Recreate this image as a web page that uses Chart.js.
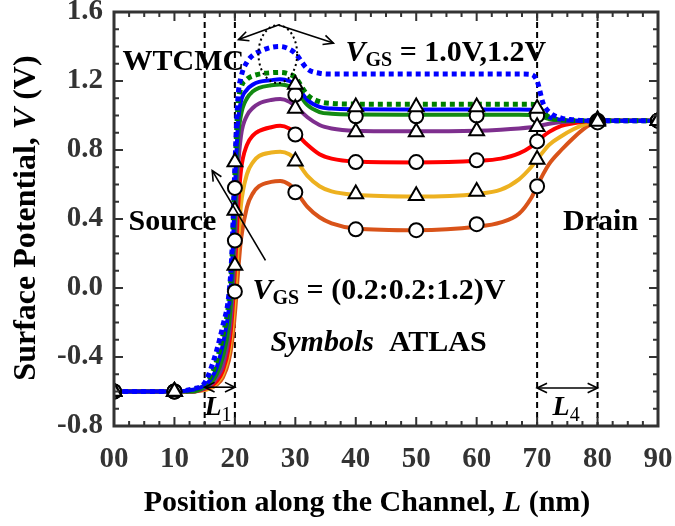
<!DOCTYPE html>
<html lang="en">
<head>
<meta charset="utf-8">
<title>Surface potential along the channel</title>
<script src="https://cdn.jsdelivr.net/npm/chart.js"></script>
<style>
	html, body { margin: 0; padding: 0; background: #fff; }
	#wrap { width: 675px; height: 526px; }
</style>
</head>
<body>
<div id="wrap"><canvas id="chart" width="675" height="526"></canvas></div>
<script>
// positions along the channel (nm) used for the model curves
const positions = [0, 5, 10, 13, 15, 16, 17, 18, 19, 19.5, 20, 20.5, 21, 22, 23, 24, 26, 27.5, 29, 30, 32, 34, 36, 40, 50, 60, 64, 67, 69, 70, 71, 72, 74, 76, 78, 80, 85, 90]

// WTCMC model, solid lines, VGS = 0.2 ... 1.2 V
const model02 = [-0.6, -0.6, -0.6, -0.6, -0.59, -0.58, -0.56, -0.52, -0.42, -0.32, -0.15, 0.08, 0.28, 0.47, 0.55, 0.59, 0.615, 0.62, 0.6, 0.565, 0.47, 0.41, 0.375, 0.345, 0.335, 0.355, 0.38, 0.43, 0.52, 0.59, 0.66, 0.72, 0.8, 0.87, 0.93, 0.965, 0.97, 0.97]
const model04 = [-0.6, -0.6, -0.6, -0.6, -0.59, -0.58, -0.55, -0.5, -0.38, -0.25, -0.05, 0.25, 0.48, 0.66, 0.73, 0.765, 0.785, 0.79, 0.775, 0.745, 0.65, 0.59, 0.56, 0.54, 0.53, 0.545, 0.57, 0.63, 0.7, 0.745, 0.79, 0.83, 0.88, 0.92, 0.95, 0.968, 0.97, 0.97]
const model06 = [-0.6, -0.6, -0.6, -0.6, -0.585, -0.57, -0.54, -0.48, -0.34, -0.18, 0.1, 0.45, 0.68, 0.83, 0.885, 0.91, 0.932, 0.94, 0.925, 0.9, 0.83, 0.775, 0.75, 0.733, 0.728, 0.737, 0.75, 0.78, 0.82, 0.85, 0.88, 0.905, 0.94, 0.955, 0.965, 0.97, 0.97, 0.97]
const model08 = [-0.6, -0.6, -0.6, -0.6, -0.58, -0.56, -0.52, -0.45, -0.28, -0.1, 0.25, 0.68, 0.88, 1.0, 1.045, 1.07, 1.09, 1.095, 1.08, 1.055, 0.99, 0.945, 0.925, 0.912, 0.908, 0.912, 0.918, 0.925, 0.932, 0.937, 0.945, 0.952, 0.962, 0.967, 0.97, 0.97, 0.97, 0.97]
const model10 = [-0.6, -0.6, -0.6, -0.6, -0.575, -0.55, -0.5, -0.4, -0.22, 0.0, 0.4, 0.85, 1.0, 1.1, 1.14, 1.16, 1.175, 1.18, 1.17, 1.15, 1.06, 1.02, 1.01, 1.006, 1.005, 1.005, 1.005, 1.005, 1.003, 1.0, 0.99, 0.98, 0.972, 0.97, 0.97, 0.97, 0.97, 0.97]
const model12 = [-0.6, -0.6, -0.6, -0.59, -0.565, -0.53, -0.46, -0.33, -0.12, 0.1, 0.55, 0.95, 1.08, 1.15, 1.18, 1.195, 1.205, 1.21, 1.2, 1.18, 1.09, 1.05, 1.04, 1.036, 1.035, 1.035, 1.035, 1.035, 1.034, 1.03, 1.01, 0.99, 0.975, 0.97, 0.97, 0.97, 0.97, 0.97]
// dotted lines, VGS = 1.0 V and 1.2 V
const dotted10 = [-0.6, -0.6, -0.6, -0.59, -0.56, -0.51, -0.42, -0.28, -0.08, 0.15, 0.65, 1.05, 1.16, 1.21, 1.23, 1.24, 1.248, 1.25, 1.24, 1.22, 1.12, 1.08, 1.07, 1.066, 1.065, 1.065, 1.065, 1.065, 1.065, 1.06, 1.02, 0.99, 0.975, 0.97, 0.97, 0.97, 0.97, 0.97]
const dotted12 = [-0.6, -0.6, -0.6, -0.585, -0.55, -0.47, -0.36, -0.22, -0.04, 0.2, 0.7, 1.1, 1.22, 1.31, 1.35, 1.37, 1.395, 1.4, 1.385, 1.36, 1.27, 1.245, 1.24, 1.24, 1.24, 1.24, 1.24, 1.24, 1.238, 1.2, 1.07, 1.02, 0.985, 0.975, 0.97, 0.97, 0.97, 0.97]

// ATLAS symbols
const atlasX = [0, 10, 20, 30, 40, 50, 60, 70, 80, 90]
const atlas02 = [-0.6, -0.6, -0.02, 0.555, 0.34, 0.335, 0.37, 0.59, 0.96, 0.97]
const atlas04 = [-0.6, -0.6, 0.13, 0.735, 0.545, 0.535, 0.56, 0.745, 0.965, 0.97]
const atlas06 = [-0.6, -0.6, 0.275, 0.89, 0.73, 0.73, 0.74, 0.85, 0.965, 0.97]
const atlas08 = [-0.6, -0.6, 0.45, 1.04, 0.905, 0.905, 0.91, 0.935, 0.97, 0.97]
const atlas10 = [-0.6, -0.6, 0.58, 1.12, 0.995, 0.995, 1.0, 1.0, 0.97, 0.97]
const atlas12 = [-0.6, -0.6, 0.73, 1.18, 1.05, 1.05, 1.05, 1.04, 0.975, 0.97]

const regionBounds = [15, 20, 70, 80]

const serif = '"Liberation Serif", "Times New Roman", serif'

function points(xs, ys) {
	return xs.map((x, i) => ({x: x, y: ys[i]}))
}

const datasets = []
const solid = [[model02, "#D95319"], [model04, "#EDB120"], [model06, "#FF0000"], [model08, "#7E2F8E"], [model10, "#138A13"], [model12, "#0000FF"]]
solid.forEach(([ys, color], i) => {
	datasets.push({
		type: "line", data: points(positions, ys), borderColor: color, backgroundColor: color,
		borderWidth: 4, pointRadius: 0, cubicInterpolationMode: "monotone", fill: false, order: 10 - i
	})
})
;[[dotted10, "#008000"], [dotted12, "#0000FF"]].forEach(([ys, color], i) => {
	datasets.push({
		type: "line", data: points(positions, ys), borderColor: color, backgroundColor: color,
		borderWidth: 5, borderDash: [5, 4], pointRadius: 0, cubicInterpolationMode: "monotone", fill: false, order: 3 - i
	})
})
;[[atlas02, "circle"], [atlas04, "triangle"], [atlas06, "circle"], [atlas08, "triangle"], [atlas10, "circle"], [atlas12, "triangle"]].forEach(([ys, shape]) => {
	datasets.push({
		type: "line", data: points(atlasX, ys), showLine: false, pointStyle: shape,
		pointRadius: shape == "circle" ? 7 : 8.5, pointBackgroundColor: "#fff", pointBorderColor: "#000",
		pointBorderWidth: 2, order: shape == "circle" ? 0 : -1
	})
})

function drawParts(ctx, x, y, parts) {
	ctx.textAlign = "left"
	ctx.textBaseline = "middle"
	parts.forEach(p => {
		ctx.font = p.font
		ctx.fillText(p.t, x, y + (p.dy || 0))
		x += ctx.measureText(p.t).width
	})
}
function partsWidth(ctx, parts) {
	let w = 0
	parts.forEach(p => { ctx.font = p.font; w += ctx.measureText(p.t).width })
	return w
}
function arrowHead(ctx, x1, y1, x2, y2, size) {
	const a = Math.atan2(y2 - y1, x2 - x1)
	ctx.beginPath()
	ctx.moveTo(x2 - size * Math.cos(a - 0.45), y2 - size * Math.sin(a - 0.45))
	ctx.lineTo(x2, y2)
	ctx.lineTo(x2 - size * Math.cos(a + 0.45), y2 - size * Math.sin(a + 0.45))
	ctx.stroke()
}
function arrow(ctx, x1, y1, x2, y2, both) {
	ctx.beginPath()
	ctx.moveTo(x1, y1)
	ctx.lineTo(x2, y2)
	ctx.stroke()
	arrowHead(ctx, x1, y1, x2, y2, 11)
	if (both) arrowHead(ctx, x2, y2, x1, y1, 11)
}

const B = "bold 30px " + serif
const BI = "italic bold 30px " + serif
const SUB = "bold 20px " + serif

const decorations = {
	id: "decorations",
	beforeDatasetsDraw(chart) {
		const ctx = chart.ctx
		const xs = chart.scales.x, ys = chart.scales.y
		const px = v => xs.getPixelForValue(v), py = v => ys.getPixelForValue(v)
		ctx.save()
		ctx.fillStyle = "#000"
		drawParts(ctx, px(1.4), py(1.31), [{t: "WTCMC", font: B}])
		drawParts(ctx, px(38.3), py(1.36), [{t: "V", font: BI}, {t: "GS", font: SUB, dy: 7}, {t: " = 1.0V,1.2V", font: B}])
		drawParts(ctx, px(2.4), py(0.38), [{t: "Source", font: B}])
		drawParts(ctx, px(74.3), py(0.38), [{t: "Drain", font: B}])
		drawParts(ctx, px(22.9), py(-0.02), [{t: "V", font: BI}, {t: "GS", font: SUB, dy: 7}, {t: " = (0.2:0.2:1.2)V", font: B}])
		drawParts(ctx, px(25.9), py(-0.32), [{t: "Symbols", font: BI}, {t: "  ATLAS", font: B}])

		// region boundaries
		ctx.strokeStyle = "#000"
		ctx.lineWidth = 2
		ctx.setLineDash([6, 4])
		regionBounds.forEach(b => {
			ctx.beginPath()
			ctx.moveTo(px(b), chart.chartArea.top)
			ctx.lineTo(px(b), chart.chartArea.bottom)
			ctx.stroke()
		})
		ctx.restore()
	},
	afterDatasetsDraw(chart) {
		const ctx = chart.ctx
		const xs = chart.scales.x, ys = chart.scales.y
		const px = v => xs.getPixelForValue(v), py = v => ys.getPixelForValue(v)
		const area = chart.chartArea
		ctx.save()
		ctx.strokeStyle = "#000"
		ctx.fillStyle = "#000"

		// peak marker and arrows
		ctx.setLineDash([2, 3])
		ctx.lineWidth = 2
		ctx.beginPath()
		ctx.ellipse(px(27.1), py(1.356), px(27.1) - px(23.9), py(1.356) - py(1.524), 0, 0, Math.PI * 2)
		ctx.stroke()
		ctx.setLineDash([])
		ctx.lineWidth = 1.6
		arrow(ctx, px(27.2), py(1.525), px(20.6), py(1.44))
		arrow(ctx, px(27.2), py(1.525), px(36.3), py(1.42))
		arrow(ctx, px(25.06), py(0.16), px(16.25), py(0.68))

		// L1 and L4
		arrow(ctx, px(15), py(-0.575), px(20), py(-0.575), true)
		arrow(ctx, px(70), py(-0.58), px(80), py(-0.58), true)
		const l1 = [{t: "L", font: "italic bold 28px " + serif}, {t: "1", font: "20px " + serif, dy: 8}]
		drawParts(ctx, px(17.2) - partsWidth(ctx, l1) / 2, py(-0.695), l1)
		const l4 = [{t: "L", font: "italic bold 28px " + serif}, {t: "4", font: "20px " + serif, dy: 8}]
		drawParts(ctx, px(74.8) - partsWidth(ctx, l4) / 2, py(-0.695), l4)

		// frame and inward ticks
		ctx.strokeStyle = "#333"
		ctx.lineWidth = 3
		ctx.strokeRect(area.left, area.top, area.right - area.left, area.bottom - area.top)
		ctx.lineWidth = 2
		for (let v = xs.min; v <= xs.max + 1e-6; v += 2.5) {
			const len = Math.abs(v % 10) < 1e-6 ? 9 : 5
			ctx.beginPath()
			ctx.moveTo(px(v), area.bottom); ctx.lineTo(px(v), area.bottom - len)
			ctx.moveTo(px(v), area.top); ctx.lineTo(px(v), area.top + len)
			ctx.stroke()
		}
		for (let i = 0; i <= 24; i++) {
			const v = ys.min + i * 0.1
			const len = i % 4 == 0 ? 9 : 5
			ctx.beginPath()
			ctx.moveTo(area.left, py(v)); ctx.lineTo(area.left + len, py(v))
			ctx.moveTo(area.right, py(v)); ctx.lineTo(area.right - len, py(v))
			ctx.stroke()
		}

		// axis titles
		ctx.fillStyle = "#000"
		const xt = [{t: "Position along the Channel, ", font: B}, {t: "L", font: BI}, {t: " (nm)", font: B}]
		drawParts(ctx, 367 - partsWidth(ctx, xt) / 2, 503, xt)
		const YB = "bold 32px " + serif, YBI = "italic bold 32px " + serif
		const yt = [{t: "Surface Potential, ", font: YB}, {t: "V", font: YBI}, {t: " (V)", font: YB}]
		ctx.translate(27, 218)
		ctx.rotate(-Math.PI / 2)
		drawParts(ctx, -partsWidth(ctx, yt) / 2, 0, yt)
		ctx.restore()
	}
}

new Chart(document.getElementById("chart").getContext("2d"), {
	data: {datasets: datasets},
	options: {
		responsive: false,
		animation: false,
		layout: {padding: {top: 12, right: 17, left: 0, bottom: 0}},
		plugins: {legend: {display: false}, tooltip: {enabled: false}},
		scales: {
			x: {
				type: "linear", min: 0, max: 90,
				grid: {display: false, drawTicks: false},
				border: {display: false},
				ticks: {
					stepSize: 10, padding: 16, color: "#333",
					font: {family: serif, size: 29, weight: "bold"},
					callback: v => v == 0 ? "00" : String(v)
				},
				afterFit: s => { s.height = 100; s.paddingLeft = 0; s.paddingRight = 0 }
			},
			y: {
				type: "linear", min: -0.8, max: 1.6,
				grid: {display: false, drawTicks: false},
				border: {display: false},
				ticks: {
					stepSize: 0.4, padding: 11, color: "#333",
					font: {family: serif, size: 29, weight: "bold"},
					callback: v => Math.abs(v) < 1e-9 ? "0.0" : v.toFixed(1)
				},
				afterFit: s => { s.width = 114; s.paddingTop = 0; s.paddingBottom = 0 }
			}
		}
	},
	plugins: [decorations]
})
</script>
</body>
</html>
